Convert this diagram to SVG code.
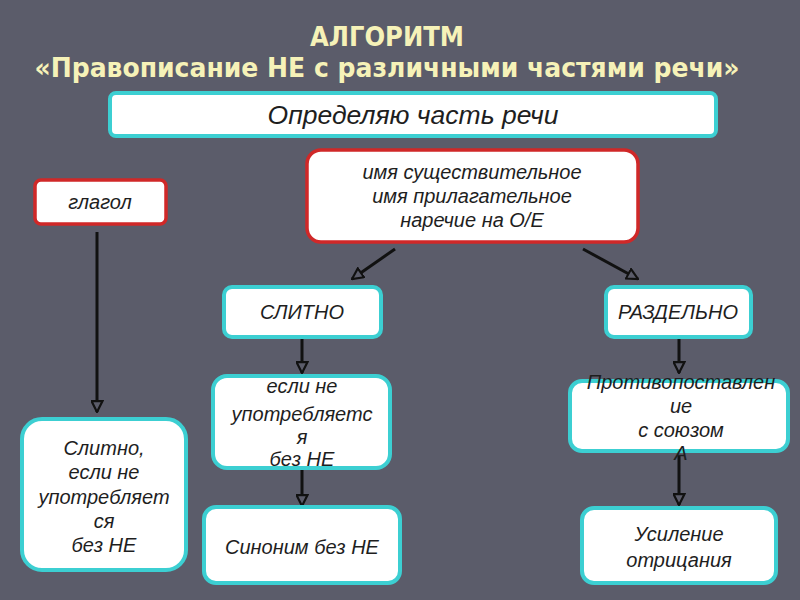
<svg xmlns="http://www.w3.org/2000/svg" width="800" height="600" viewBox="0 0 800 600">
<defs>
<style>
.bg{fill:#5b5c6a}
.title{font-family:"DejaVu Sans Condensed","DejaVu Sans",sans-serif;font-stretch:condensed;font-weight:bold;font-size:27px;fill:#f6f2b8;text-anchor:middle}
.cy{fill:#ffffff;stroke:#3ccfd2;stroke-width:4}
.rd{fill:#ffffff;stroke:#d02828;stroke-width:3.5}
.t{font-family:"Liberation Sans",Arial,sans-serif;font-style:italic;fill:#1e1e1e;text-anchor:middle;font-size:20px}
.big{font-size:25px}
.con{stroke:#111;stroke-width:3;fill:none}
</style>
<marker id="ah" viewBox="0 0 12 12" refX="11" refY="6" markerWidth="13" markerHeight="13" markerUnits="userSpaceOnUse" orient="auto">
<path d="M1,1 L11,6 L1,11 Z" fill="#5b5c6a" stroke="#111" stroke-width="2"/>
</marker>
</defs>
<rect class="bg" x="0" y="0" width="800" height="600"/>
<g id="title">
<text class="title" x="387" y="46">АЛГОРИТМ</text>
<text class="title" x="387" y="77" textLength="705" lengthAdjust="spacingAndGlyphs">«Правописание НЕ с различными частями речи»</text>
</g>
<g id="connectors">
<line class="con" x1="97" y1="232" x2="97" y2="412" marker-end="url(#ah)"/>
<line class="con" x1="395" y1="249" x2="352" y2="279" marker-end="url(#ah)"/>
<line class="con" x1="583" y1="249" x2="638" y2="279" marker-end="url(#ah)"/>
<line class="con" x1="302" y1="338" x2="302" y2="373" marker-end="url(#ah)"/>
<line class="con" x1="302" y1="468" x2="302" y2="506" marker-end="url(#ah)"/>
<line class="con" x1="679" y1="338" x2="679" y2="373" marker-end="url(#ah)"/>
<line class="con" x1="679" y1="455" x2="679" y2="505" marker-end="url(#ah)"/>
</g>
<g id="n-define">
<rect class="cy" x="110" y="93" width="606" height="43" rx="6"/>
<text class="t big" x="413" y="124" textLength="291" lengthAdjust="spacingAndGlyphs">Определяю часть речи</text>
</g>
<g id="n-noun">
<rect class="rd" x="307" y="150" width="331" height="92" rx="14"/>
<text class="t" x="472" y="179">имя существительное</text>
<text class="t" x="472" y="203">имя прилагательное</text>
<text class="t" x="472" y="227">наречие на О/Е</text>
</g>
<g id="n-verb">
<rect class="rd" x="35" y="180" width="131" height="44" rx="6"/>
<text class="t" x="100" y="209">глагол</text>
</g>
<g id="n-together">
<rect class="cy" x="224" y="287" width="157" height="50" rx="8"/>
<text class="t" x="302" y="319">СЛИТНО</text>
</g>
<g id="n-separate">
<rect class="cy" x="606" y="287" width="145" height="50" rx="8"/>
<text class="t" x="678" y="319">РАЗДЕЛЬНО</text>
</g>
<g id="n-ifnot">
<rect class="cy" x="213" y="376" width="177" height="92" rx="14"/>
<text class="t" x="302" y="393">если не</text>
<text class="t" x="302" y="421">употребляетс</text>
<text class="t" x="302" y="444">я</text>
<text class="t" x="302" y="466">без НЕ</text>
</g>
<g id="n-synonym">
<rect class="cy" x="204" y="507" width="196" height="76" rx="12"/>
<text class="t" x="302" y="554">Синоним без НЕ</text>
</g>
<g id="n-verbrule">
<rect class="cy" x="22" y="419" width="164" height="151" rx="20"/>
<text class="t" x="104" y="455">Слитно,</text>
<text class="t" x="104" y="479">если не</text>
<text class="t" x="104" y="504">употребляет</text>
<text class="t" x="104" y="528">ся</text>
<text class="t" x="104" y="552">без НЕ</text>
</g>
<g id="n-contrast">
<rect class="cy" x="570" y="381" width="218" height="70" rx="12"/>
<text class="t" x="681" y="389">Противопоставлен</text>
<text class="t" x="681" y="413">ие</text>
<text class="t" x="681" y="437">с союзом</text>
<text class="t" x="681" y="460">А</text>
</g>
<g id="n-strength">
<rect class="cy" x="582" y="508" width="194" height="75" rx="12"/>
<text class="t" x="679" y="541">Усиление</text>
<text class="t" x="679" y="567">отрицания</text>
</g>
</svg>
